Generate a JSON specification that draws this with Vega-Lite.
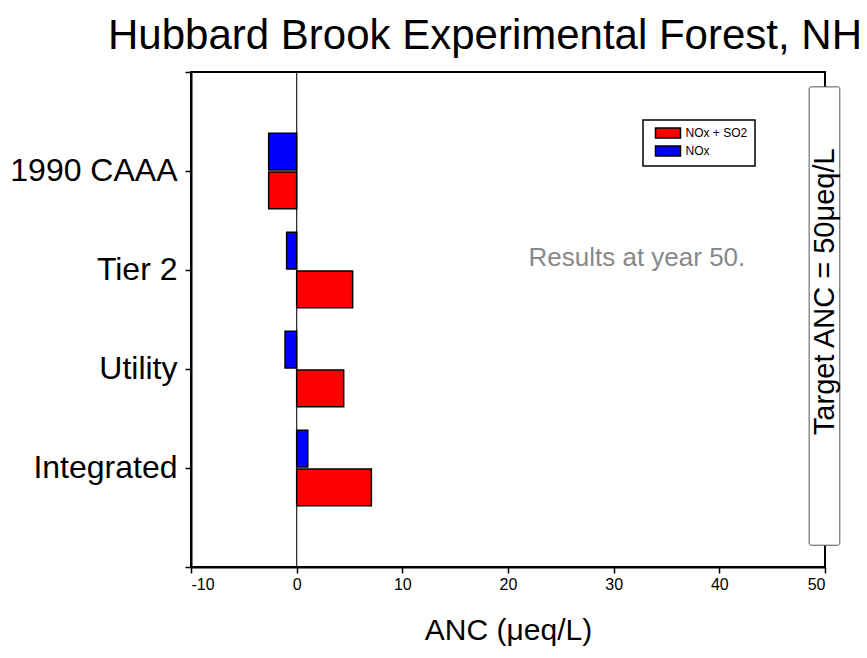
{
  "$schema": "https://vega.github.io/schema/vega-lite/v6.json",
  "width": 634,
  "height": 495,
  "autosize": "none",
  "padding": {"left": 191, "top": 72, "right": 42, "bottom": 91},
  "background": "white",
  "title": {
    "text": "Hubbard Brook Experimental Forest, NH",
    "font": "Liberation Sans",
    "fontSize": 42,
    "fontWeight": "normal",
    "color": "black",
    "anchor": "middle",
    "dx": -23,
    "dy": 40,
    "baseline": "alphabetic",
    "offset": 20
  },
  "config": {
    "view": {"stroke": "black", "strokeWidth": 2},
    "font": "Liberation Sans",
    "axis": {
      "labelFont": "Liberation Sans",
      "titleFont": "Liberation Sans",
      "labelColor": "black",
      "titleColor": "black",
      "domainColor": "black",
      "tickColor": "black",
      "domainWidth": 2,
      "tickWidth": 1.5,
      "tickSize": 6,
      "grid": false,
      "titleFontWeight": "normal"
    }
  },
  "data": {
    "values": [
      {"scenario": "1990 CAAA", "series": "NOx", "anc": -2.65},
      {"scenario": "1990 CAAA", "series": "NOx + SO2", "anc": -2.65},
      {"scenario": "Tier 2", "series": "NOx", "anc": -0.95},
      {"scenario": "Tier 2", "series": "NOx + SO2", "anc": 5.3},
      {"scenario": "Utility", "series": "NOx", "anc": -1.1},
      {"scenario": "Utility", "series": "NOx + SO2", "anc": 4.45},
      {"scenario": "Integrated", "series": "NOx", "anc": 1.05},
      {"scenario": "Integrated", "series": "NOx + SO2", "anc": 7.07}
    ]
  },
  "layer": [
    {
      "data": {"values": [{}]},
      "mark": {"type": "rule", "color": "#222222", "strokeWidth": 1.2},
      "encoding": {
        "x": {"datum": 0, "type": "quantitative", "scale": {"domain": [-10, 50], "nice": false, "zero": false}}
      }
    },
    {
      "mark": {"type": "bar", "stroke": "black", "strokeWidth": 1.5},
      "encoding": {
        "y": {
          "field": "scenario",
          "type": "nominal",
          "sort": ["1990 CAAA", "Tier 2", "Utility", "Integrated"],
          "scale": {"paddingInner": 0, "paddingOuter": 0.5},
          "axis": {
            "title": null,
            "labelFontSize": 32,
            "labelPadding": 8,
            "domain": true
          }
        },
        "yOffset": {
          "field": "series",
          "type": "nominal",
          "sort": ["NOx", "NOx + SO2"],
          "scale": {"paddingInner": 0.05, "paddingOuter": 0.3}
        },
        "x": {
          "field": "anc",
          "type": "quantitative",
          "scale": {"domain": [-10, 50], "nice": false, "zero": false},
          "axis": {
            "values": [-10, 0, 10, 20, 30, 40, 50],
            "labelExpr": "replace(datum.label, '−', '-')",
            "title": "ANC (μeq/L)",
            "titleFontSize": 30,
            "titlePadding": 23,
            "labelFontSize": 16,
            "labelPadding": 3
          }
        },
        "color": {
          "field": "series",
          "type": "nominal",
          "scale": {"domain": ["NOx + SO2", "NOx"], "range": ["#ff0000", "#0000ff"]},
          "legend": {
            "orient": "none",
            "legendX": 452,
            "legendY": 48,
            "title": null,
            "strokeColor": "black",
            "fillColor": "white",
            "padding": 7,
            "labelFont": "Liberation Sans",
            "labelFontSize": 12,
            "labelColor": "black",
            "labelOffset": 11.5,
            "rowPadding": 2,
            "symbolType": "M-2.5,-1H2.5V1H-2.5Z",
            "symbolSize": 100,
            "symbolOffset": 12,
            "symbolStrokeColor": "black",
            "symbolStrokeWidth": 1.5,
            "symbolOpacity": 1,
            "encode": {"legend": {"update": {"strokeWidth": {"value": 1.5}}}}
          }
        }
      }
    },
    {
      "data": {"values": [{}]},
      "encoding": {
        "y": {
          "type": "quantitative",
          "scale": {"domain": [0, 5], "nice": false, "zero": false}
        }
      },
      "layer": [
        {
          "mark": {"type": "rect", "fill": "white", "stroke": "#555555", "strokeWidth": 1, "cornerRadius": 2},
          "encoding": {
            "x": {"datum": 48.5, "type": "quantitative"},
            "x2": {"datum": 51.4},
            "y": {
              "datum": 0.22,
              "type": "quantitative",
              "axis": {
                "orient": "left",
                "values": [0, 5],
                "labels": false,
                "domain": false,
                "ticks": true,
                "title": null,
                "tickSize": 6,
                "tickWidth": 1.5
              }
            },
            "y2": {"datum": 4.85}
          }
        },
        {
          "mark": {"type": "text", "angle": 270, "fontSize": 29, "font": "Liberation Sans", "color": "black", "align": "center", "baseline": "middle"},
          "encoding": {
            "x": {"datum": 50, "type": "quantitative"},
            "y": {"datum": 2.78, "type": "quantitative"},
            "text": {"value": "Target ANC = 50μeq/L"}
          }
        },
        {
          "mark": {"type": "text", "fontSize": 26, "font": "Liberation Sans", "color": "#888888", "align": "center", "baseline": "middle"},
          "encoding": {
            "x": {"datum": 32.2, "type": "quantitative"},
            "y": {"datum": 3.12, "type": "quantitative"},
            "text": {"value": "Results at year 50."}
          }
        }
      ]
    }
  ],
  "resolve": {"scale": {"y": "independent"}}
}
